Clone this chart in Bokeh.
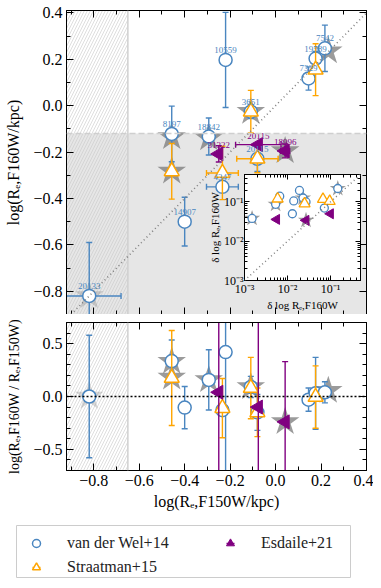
import numpy as np
from bokeh.plotting import figure
from bokeh.models import (Range1d, LinearAxis, LogAxis, SingleIntervalTicker, FixedTicker,
                          CustomJSTickFormatter, Legend, LegendItem, Span, Slope)
from bokeh.layouts import column
from bokeh.embed import file_html
from bokeh.resources import INLINE
from bokeh.core.properties import value

FONT = "Liberation Serif"
BLUE = "#4a86c0"
ORANGE = "#ffa500"
PURPLE = "#800080"
STARC = "#7a7a7a"

# ---------------- data ----------------
# van der Wel+14
vdw_id = ["20133", "8197", "14907", "18842", "10559", "4347", "3651", "20115", "7329", "19589", "7542"]
vdw_x = [-0.82, -0.457, -0.40, -0.294, -0.22, -0.234, -0.109, -0.08, 0.145, 0.176, 0.217]
vdw_y = [-0.82, -0.122, -0.50, -0.133, 0.197, -0.35, -0.026, -0.229, 0.117, 0.203, 0.247]
vdw_xerr = [0.14, 0, 0, 0, 0, 0.07, 0, 0, 0, 0, 0]
vdw_yerr = [0.23, 0.12, 0.105, 0.08, 0.205, 0.0, 0.03, 0.055, 0.05, 0.03, 0.1]
vdw_ratio = [0.0, 0.335, -0.105, 0.157, 0.42, -0.13, 0.09, -0.15, -0.03, 0.03, 0.04]
vdw_ratio_err = [0.58, 0.2, 0.2, 0.285, 1.2, 0.05, 0.1, 0.17, 0.11, 0.34, 0.1]

# Straatman+15
str_x = [-0.457, -0.234, -0.109, -0.08, 0.176]
str_y = [-0.283, -0.29, -0.026, -0.229, 0.155]
str_xerr = [0, 0.07, 0, 0.091, 0]
str_yerr = [0.12, 0.115, 0.092, 0.06, 0.112]
str_ratio = [0.175, -0.11, 0.08, -0.15, -0.005]
str_ratio_err = [0.45, 0.28, 0.29, 0.23, 0.295]

# Esdaile+21
esd_id = ["31322", "20115", "18996"]
esd_x = [-0.25, -0.076, 0.042]
esd_y = [-0.208, -0.168, -0.195]
esd_xerr = [0.0, 0.1, 0.02]
esd_yerr = [0.035, 0.0, 0.03]
esd_ratio = [0.04, -0.10, -0.24]
esd_ratio_err = [1.0, 1.0, 0.57]

# highlighted objects (stars)
star_x = [-0.82, -0.457, -0.457, -0.294, -0.109, 0.042, 0.232]
star_y = [-0.82, -0.135, -0.283, -0.14, -0.026, -0.195, 0.235]
star_ratio = [0.0, 0.33, 0.18, 0.157, 0.09, -0.24, 0.055]
star_alpha = [0.3, 0.75, 0.75, 0.75, 0.75, 0.75, 0.75]

# inset: uncertainties
in_vdw_dx = [0.0015, 0.0053, 0.0066, 0.013, 0.014, 0.019, 0.023, 0.027, 0.072, 0.148]
in_vdw_dy = [0.038, 0.087, 0.14, 0.05, 0.106, 0.196, 0.126, 0.1, 0.07, 0.22]
in_str_dx = [0.0059, 0.025, 0.067, 0.096]
in_str_dy = [0.12, 0.09, 0.117, 0.104]
in_esd_dx = [0.0056, 0.027, 0.1]
in_esd_dy = [0.036, 0.034, 0.05]
in_star_dx = [0.0015, 0.0053, 0.023, 0.027, 0.148]
in_star_dy = [0.038, 0.087, 0.126, 0.034, 0.22]

# legend entries
leg_labels = ["van der Wel+14", "Straatman+15", "Esdaile+21"]

XLIM = (-0.92, 0.4)
YLIM_TOP = (-0.9, 0.41)
YLIM_BOT = (-0.7, 0.7)
HATCH_EDGE = -0.65
GRAY_EDGE = -0.12

fmt = CustomJSTickFormatter(code="""
const t = Math.abs(tick) < 1e-9 ? 0 : tick;
return t.toFixed(1).replace('-', '\u2212');
""")
logfmt = CustomJSTickFormatter(code="""
const e = Math.round(Math.log10(tick));
const sup = {'-': '\u207b', '0': '\u2070', '1': '\u00b9', '2': '\u00b2', '3': '\u00b3', '4': '\u2074'};
return '10' + String(e).split('').map(c => sup[c]).join('');
""")
nofmt = CustomJSTickFormatter(code="return '';")


def style_axis(ax, ticker, labels=True, size="16px", major_in=7, minor_in=4):
    ax.ticker = ticker
    ax.major_tick_in = major_in
    ax.major_tick_out = 0
    ax.minor_tick_in = minor_in
    ax.minor_tick_out = 0
    ax.axis_line_color = "black"
    ax.major_tick_line_color = "black"
    ax.minor_tick_line_color = "black"
    ax.axis_label_text_font = FONT
    ax.axis_label_text_font_style = "normal"
    ax.axis_label_text_color = "black"
    if labels:
        ax.major_label_text_font = FONT
        ax.major_label_text_font_size = size
        ax.major_label_text_color = "black"
        ax.major_label_standoff = 4
    else:
        ax.formatter = nofmt
        ax.major_label_text_font_size = "1px"
        ax.major_label_text_color = None
        ax.major_label_standoff = 0


def base_fig(w, h, xr, yr, **kw):
    p = figure(width=w, height=h, x_range=Range1d(*xr), y_range=Range1d(*yr),
               output_backend="svg", toolbar_location=None, **kw)
    p.grid.visible = False
    p.outline_line_color = "black"
    p.outline_line_width = 1
    p.background_fill_color = "white"
    p.border_fill_color = "white"
    return p


def errbars(p, x, y, xerr, yerr, color, lw=1.4, cap=6):
    x = np.asarray(x, float); y = np.asarray(y, float)
    xerr = np.asarray(xerr, float); yerr = np.asarray(yerr, float)
    m = yerr > 0
    if m.any():
        p.segment(x[m], y[m] - yerr[m], x[m], y[m] + yerr[m], line_color=color, line_width=lw)
        p.scatter(np.r_[x[m], x[m]], np.r_[y[m] - yerr[m], y[m] + yerr[m]], marker="dash",
                  size=cap, line_color=color, line_width=lw)
    m = xerr > 0
    if m.any():
        p.segment(x[m] - xerr[m], y[m], x[m] + xerr[m], y[m], line_color=color, line_width=lw)
        p.scatter(np.r_[x[m] - xerr[m], x[m] + xerr[m]], np.r_[y[m], y[m]], marker="dash",
                  angle=np.pi / 2, size=cap, line_color=color, line_width=lw)


def shading(p, ylim, gray=False):
    if gray:
        p.quad(left=[XLIM[0]], right=[XLIM[1]], bottom=[ylim[0]], top=[GRAY_EDGE],
               fill_color="#e6e6e6", line_color=None)
        p.add_layout(Span(location=GRAY_EDGE, dimension="width", line_color="#cfcfcf",
                          line_width=1.6, line_dash="6 3"))
    p.quad(left=[XLIM[0]], right=[HATCH_EDGE], bottom=[ylim[0]], top=[ylim[1]],
           fill_alpha=0, line_color=None, hatch_pattern="/", hatch_color="#c8c8c8",
           hatch_scale=6, hatch_weight=0.6)
    p.add_layout(Span(location=HATCH_EDGE, dimension="height", line_color="#d0d0d0", line_width=1.5))


# ---------------- top panel ----------------
top = base_fig(373, 314, XLIM, YLIM_TOP, min_border_left=66, min_border_right=7,
               min_border_top=10, min_border_bottom=0)
top.add_layout(LinearAxis(), "right")
top.add_layout(LinearAxis(), "above")
style_axis(top.left[0], SingleIntervalTicker(interval=0.2, num_minor_ticks=2))
top.left[0].formatter = fmt
style_axis(top.right[0], SingleIntervalTicker(interval=0.2, num_minor_ticks=2), labels=False)
style_axis(top.below[0], SingleIntervalTicker(interval=0.2, num_minor_ticks=2), labels=False)
style_axis(top.above[0], SingleIntervalTicker(interval=0.2, num_minor_ticks=2), labels=False)
top.left[0].axis_label = "log(Rₑ,F160W/kpc)"
top.left[0].axis_label_text_font_size = "16px"
top.left[0].axis_label_standoff = 8

shading(top, YLIM_TOP, gray=True)
top.add_layout(Slope(gradient=1, y_intercept=0, line_color="#808080", line_width=1.6, line_dash="1 3"))

top.scatter(star_x, star_y, marker="star", size=30, fill_color=STARC, fill_alpha=star_alpha,
            line_color=None)
errbars(top, vdw_x, vdw_y, vdw_xerr, vdw_yerr, BLUE)
top.scatter(vdw_x, vdw_y, marker="circle", size=13, fill_color="white", line_color=BLUE, line_width=1.5)
errbars(top, str_x, str_y, str_xerr, str_yerr, ORANGE)
top.scatter(str_x, str_y, marker="triangle", size=15, fill_color="white", line_color=ORANGE, line_width=1.5)
errbars(top, esd_x, esd_y, esd_xerr, esd_yerr, PURPLE)
top.scatter(esd_x, esd_y, marker="triangle", angle=np.pi / 2, size=14, fill_color=PURPLE,
            line_color=PURPLE)

top.text(vdw_x, vdw_y, text=vdw_id, text_font=value(FONT), text_font_size="9px",
         text_color=BLUE, text_align="center", text_baseline="middle", y_offset=-10)
top.text(esd_x, esd_y, text=esd_id, text_font=value(FONT), text_font_size="9px",
         text_color=PURPLE, text_align="center", text_baseline="middle", y_offset=-9)

# ---------------- bottom panel ----------------
bot = base_fig(373, 204, XLIM, YLIM_BOT, min_border_left=66, min_border_right=7,
               min_border_top=8, min_border_bottom=48)
bot.add_layout(LinearAxis(), "right")
bot.add_layout(LinearAxis(), "above")
style_axis(bot.left[0], SingleIntervalTicker(interval=0.5, num_minor_ticks=5))
bot.left[0].formatter = fmt
style_axis(bot.right[0], SingleIntervalTicker(interval=0.5, num_minor_ticks=5), labels=False)
style_axis(bot.below[0], SingleIntervalTicker(interval=0.2, num_minor_ticks=2))
bot.below[0].formatter = fmt
style_axis(bot.above[0], SingleIntervalTicker(interval=0.2, num_minor_ticks=2), labels=False)
bot.below[0].axis_label = "log(Rₑ,F150W/kpc)"
bot.below[0].axis_label_text_font_size = "16px"
bot.below[0].axis_label_standoff = 4
bot.left[0].axis_label = "log(Rₑ,F160W / Rₑ,F150W)"
bot.left[0].axis_label_text_font_size = "14px"
bot.left[0].axis_label_standoff = 8

shading(bot, YLIM_BOT)
bot.add_layout(Span(location=0, dimension="width", line_color="black", line_width=1.5, line_dash="2 2"))
bot.scatter(star_x, star_ratio, marker="star", size=30, fill_color=STARC, fill_alpha=star_alpha,
            line_color=None)
errbars(bot, vdw_x, vdw_ratio, [0] * len(vdw_x), vdw_ratio_err, BLUE)
bot.scatter(vdw_x, vdw_ratio, marker="circle", size=13, fill_color="white", line_color=BLUE, line_width=1.5)
errbars(bot, str_x, str_ratio, [0] * len(str_x), str_ratio_err, ORANGE)
bot.scatter(str_x, str_ratio, marker="triangle", size=15, fill_color="white", line_color=ORANGE, line_width=1.5)
errbars(bot, esd_x, esd_ratio, [0] * len(esd_x), esd_ratio_err, PURPLE)
bot.scatter(esd_x, esd_ratio, marker="triangle", angle=np.pi / 2, size=14, fill_color=PURPLE,
            line_color=PURPLE)

# ---------------- legend (separate, absolutely placed box) ----------------
legf = figure(width=336, height=54, x_range=Range1d(0, 1), y_range=Range1d(0, 1),
              output_backend="svg", toolbar_location=None, min_border_left=1, min_border_right=1,
              min_border_top=1, min_border_bottom=1)
legf.frame_align = False
legf.axis.visible = False
legf.grid.visible = False
legf.outline_line_color = "#cccccc"
legf.outline_line_width = 1
legf.background_fill_color = "white"
# proxy glyphs for the legend (kept outside the visible range of this box)
px, py = [-1], [-1]
lb = legf.scatter(px, py, marker="dash", angle=np.pi / 2, size=17, line_color=BLUE, line_width=1.5)
lc = legf.scatter(px, py, marker="circle", size=12, fill_color="white", line_color=BLUE, line_width=1.5)
ob = legf.scatter(px, py, marker="dash", angle=np.pi / 2, size=17, line_color=ORANGE, line_width=1.5)
ot = legf.scatter(px, py, marker="triangle", size=13, fill_color="white", line_color=ORANGE, line_width=1.5)
pb = legf.scatter(px, py, marker="dash", angle=np.pi / 2, size=17, line_color=PURPLE, line_width=1.5)
pt = legf.scatter(px, py, marker="triangle", angle=np.pi / 2, size=13, fill_color=PURPLE, line_color=PURPLE)


def mk_legend(items, loc):
    return Legend(items=items, location=loc, glyph_width=40, glyph_height=20, spacing=4,
                  padding=4, margin=0, label_standoff=11, border_line_color=None,
                  background_fill_alpha=0, label_text_font=FONT, label_text_font_size="16px",
                  label_text_color="#222222")


legf.add_layout(mk_legend([LegendItem(label=leg_labels[0], renderers=[lb, lc]),
                           LegendItem(label=leg_labels[1], renderers=[ob, ot])], (0, 0)))
legf.add_layout(mk_legend([LegendItem(label=leg_labels[2], renderers=[pb, pt])], (194, 24)))
legf.styles = {"position": "absolute", "left": "15px", "top": "524px"}

# ---------------- inset ----------------
ins = figure(width=164, height=150, x_range=Range1d(1e-3, 0.5), y_range=Range1d(1e-3, 0.5),
             x_axis_type="log", y_axis_type="log", output_backend="svg", toolbar_location=None,
             min_border_left=44, min_border_right=4, min_border_top=4, min_border_bottom=40)
ins.frame_align = False
ins.grid.visible = False
ins.outline_line_color = "black"
ins.background_fill_color = "white"
ins.border_fill_color = None
ins.add_layout(LogAxis(), "right")
ins.add_layout(LogAxis(), "above")
major = [1e-3, 1e-2, 1e-1]
minor = [m * d for d in major for m in range(2, 10)]
for ax, lab in [(ins.left[0], True), (ins.below[0], True), (ins.right[0], False), (ins.above[0], False)]:
    style_axis(ax, FixedTicker(ticks=major, minor_ticks=minor), labels=lab, size="12px",
               major_in=5, minor_in=3)
    if lab:
        ax.formatter = logfmt
        ax.major_label_standoff = 1
ins.left[0].axis_label = "δ log Rₑ,F160W"
ins.below[0].axis_label = "δ log Rₑ,F160W"
for ax in (ins.left[0], ins.below[0]):
    ax.axis_label_text_font_size = "11px"
    ax.axis_label_standoff = 0
ins.add_layout(Slope(gradient=1, y_intercept=0, line_color="#808080", line_width=1.5, line_dash="1 3"))
ins.scatter(in_star_dx, in_star_dy, marker="star", size=17, fill_color=STARC, fill_alpha=0.75, line_color=None)
ins.scatter(in_vdw_dx, in_vdw_dy, marker="circle", size=8, fill_color="white", line_color=BLUE, line_width=1.3)
ins.scatter(in_str_dx, in_str_dy, marker="triangle", size=11, fill_color="white", line_color=ORANGE, line_width=1.3)
ins.scatter(in_esd_dx, in_esd_dy, marker="triangle", angle=np.pi / 2, size=10, fill_color=PURPLE, line_color=PURPLE)
ins.styles = {"position": "absolute", "left": "200px", "top": "170px", "z-index": "5"}

lay = column(top, bot, ins, legf)
lay.styles = {"position": "relative"}

open("out.html", "w").write(file_html(lay, INLINE))
